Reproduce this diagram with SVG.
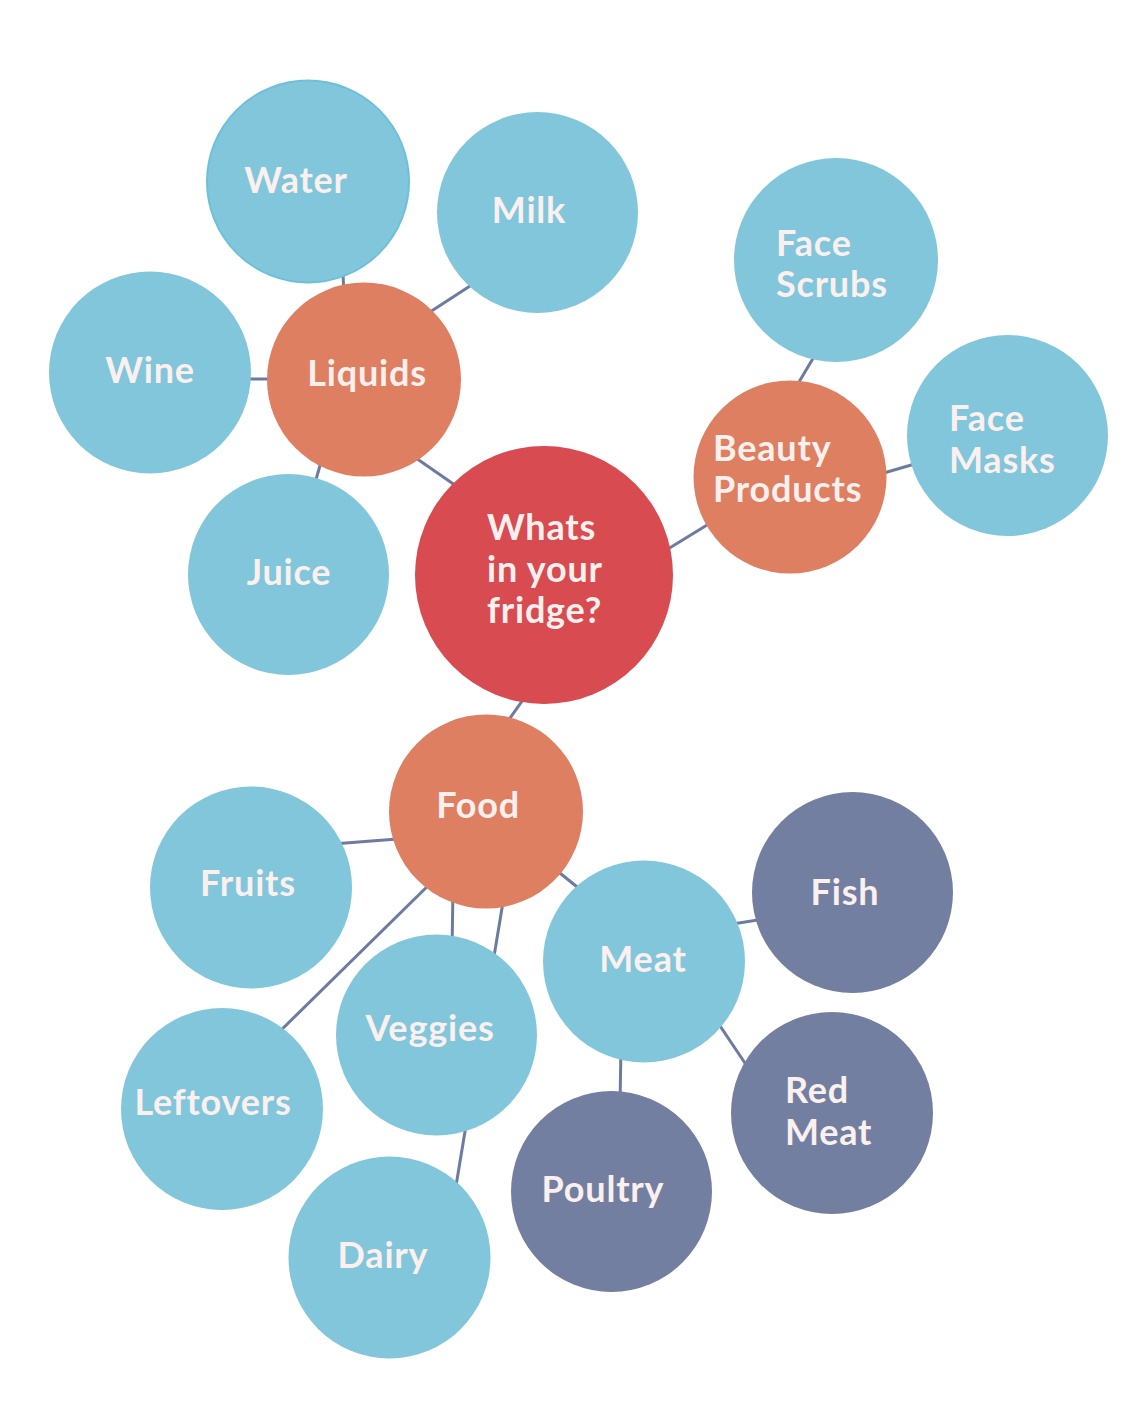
<svg xmlns="http://www.w3.org/2000/svg" width="1136" height="1412" viewBox="0 0 1136 1412">
<style>
.blue{fill:#81C6DB}
.orange{fill:#DF7F62}
.red{fill:#D84B51}
.slate{fill:#727FA1}
.edge{stroke:#6E7BA0;stroke-width:3;fill:none}
text{font-family:Lato,"Open Sans","Liberation Sans",sans-serif;font-weight:700;font-size:36px;letter-spacing:0.8px;fill:#FBF0EE}
.c{text-anchor:middle}
</style>
<rect width="1136" height="1412" fill="#FFFFFF"/>
<g id="connectors">
<line class="edge" x1="342" y1="250" x2="345" y2="320"/>
<line class="edge" x1="490" y1="273" x2="410" y2="325"/>
<line class="edge" x1="230" y1="379" x2="290" y2="379"/>
<line class="edge" x1="323" y1="455" x2="313" y2="490"/>
<line class="edge" x1="400" y1="447" x2="475" y2="499"/>
<line class="edge" x1="650" y1="560" x2="725" y2="514"/>
<line class="edge" x1="818" y1="350" x2="793" y2="392"/>
<line class="edge" x1="870" y1="477" x2="925" y2="461"/>
<line class="edge" x1="530" y1="690" x2="503" y2="728"/>
<line class="edge" x1="320" y1="845" x2="410" y2="838"/>
<line class="edge" x1="270" y1="1041" x2="440" y2="874"/>
<line class="edge" x1="453" y1="890" x2="452" y2="950"/>
<line class="edge" x1="505" y1="890" x2="452" y2="1210"/>
<line class="edge" x1="545" y1="861" x2="592" y2="899"/>
<line class="edge" x1="720" y1="926" x2="770" y2="918"/>
<line class="edge" x1="710" y1="1011" x2="755" y2="1078"/>
<line class="edge" x1="621" y1="1045" x2="620" y2="1105"/>
</g>
<g id="water"><circle class="blue" cx="308" cy="181.5" r="101" stroke="#6EC0DA" stroke-width="2"/><text class="c" x="296" y="193">Water</text></g>
<g id="milk"><circle class="blue" cx="537.5" cy="212.5" r="100.5"/><text class="c" x="529" y="223">Milk</text></g>
<g id="wine"><circle class="blue" cx="150" cy="372.5" r="101"/><text class="c" x="150" y="383">Wine</text></g>
<g id="liquids"><circle class="orange" cx="364" cy="379.5" r="97"/><text class="c" x="367" y="386">Liquids</text></g>
<g id="juice"><circle class="blue" cx="288.5" cy="574.5" r="100.5"/><text class="c" x="289" y="585">Juice</text></g>
<g id="center"><circle class="red" cx="544" cy="575" r="129"/><text x="487" y="540">Whats</text><text x="487" y="582">in your</text><text x="487" y="623">fridge?</text></g>
<g id="face-scrubs"><circle class="blue" cx="836" cy="260" r="102"/><text x="776" y="256">Face</text><text x="776" y="297">Scrubs</text></g>
<g id="beauty"><circle class="orange" cx="790" cy="477" r="96.5"/><text x="713" y="461">Beauty</text><text x="713" y="502">Products</text></g>
<g id="face-masks"><circle class="blue" cx="1007.5" cy="435.5" r="100.5"/><text x="949" y="431">Face</text><text x="949" y="473">Masks</text></g>
<g id="food"><circle class="orange" cx="486" cy="811.5" r="97"/><text class="c" x="478" y="818">Food</text></g>
<g id="fruits"><circle class="blue" cx="251" cy="887.5" r="101"/><text class="c" x="248" y="896">Fruits</text></g>
<g id="fish"><circle class="slate" cx="852.5" cy="892.5" r="100.5"/><text class="c" x="845" y="905">Fish</text></g>
<g id="meat"><circle class="blue" cx="644" cy="961.5" r="101"/><text class="c" x="643" y="972">Meat</text></g>
<g id="veggies"><circle class="blue" cx="436.5" cy="1035" r="100.5"/><text class="c" x="430" y="1041">Veggies</text></g>
<g id="leftovers"><circle class="blue" cx="222" cy="1109" r="101"/><text class="c" x="213" y="1115">Leftovers</text></g>
<g id="red-meat"><circle class="slate" cx="832" cy="1113" r="101"/><text x="785" y="1103">Red</text><text x="785" y="1145">Meat</text></g>
<g id="poultry"><circle class="slate" cx="611.5" cy="1191.5" r="100.5"/><text class="c" x="603" y="1202">Poultry</text></g>
<g id="dairy"><circle class="blue" cx="389.5" cy="1257.5" r="101"/><text class="c" x="383" y="1268">Dairy</text></g>
</svg>
